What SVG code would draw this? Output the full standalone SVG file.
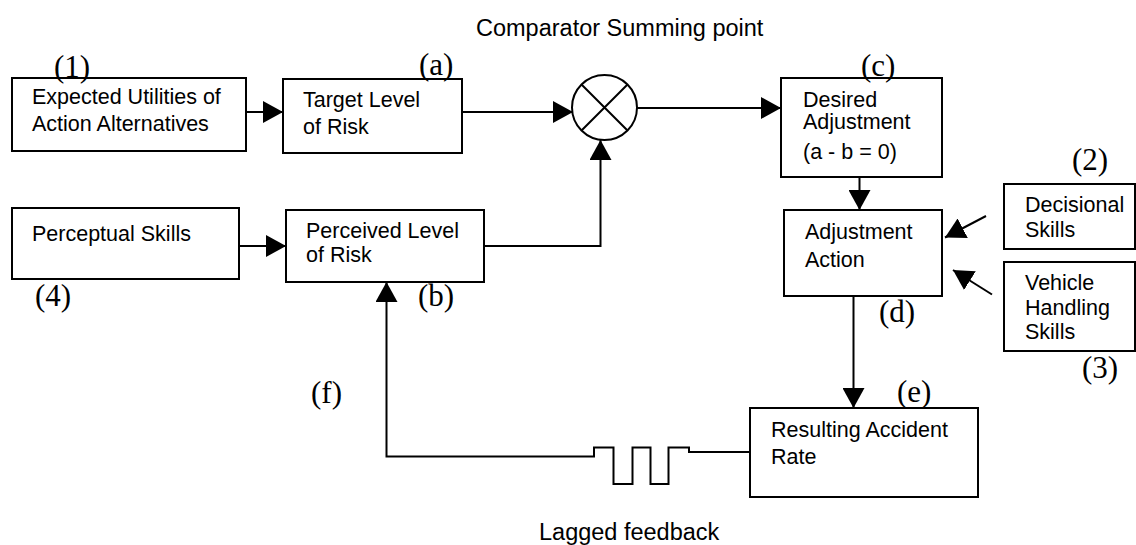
<svg xmlns="http://www.w3.org/2000/svg" width="1136" height="545" viewBox="0 0 1136 545">
<style>
.box{fill:#fff;stroke:#000;stroke-width:2}
.t{font-family:"Liberation Sans",Arial,sans-serif;font-size:21.5px;fill:#000}
.big{font-family:"Liberation Sans",Arial,sans-serif;font-size:23.5px;fill:#000}
.lab{font-family:"Liberation Serif","Times New Roman",serif;font-size:31px;fill:#000}
.ln{fill:none;stroke:#000;stroke-width:2}
</style>
<defs>
<marker id="ah" markerUnits="userSpaceOnUse" markerWidth="20" markerHeight="22" refX="20" refY="11" orient="auto" viewBox="0 0 20 22">
<path d="M0,0 L20,11 L0,22 z" fill="#000"/>
</marker>
</defs>
<rect width="1136" height="545" fill="#fff"/>
<text class="big" x="476" y="36">Comparator Summing point</text>
<text class="big" x="539" y="540">Lagged feedback</text>

<g id="n1">
<rect class="box" x="12" y="78" width="234" height="73"/>
<text class="t" x="32" y="104">Expected Utilities of</text>
<text class="t" x="32" y="131">Action Alternatives</text>
<text class="lab" x="54" y="77">(1)</text>
</g>
<g id="na">
<rect class="box" x="283" y="79" width="179" height="74"/>
<text class="t" x="303" y="107">Target Level</text>
<text class="t" x="303" y="134">of Risk</text>
<text class="lab" x="419" y="75">(a)</text>
</g>
<g id="comparator">
<circle cx="604.5" cy="107.5" r="32.5" fill="#fff" stroke="#000" stroke-width="2"/>
<path class="ln" d="M581.5,84.5 L627.5,130.5 M627.5,84.5 L581.5,130.5"/>
</g>
<g id="nc">
<rect class="box" x="781" y="78" width="161" height="99"/>
<text class="t" x="803" y="107">Desired</text>
<text class="t" x="803" y="129">Adjustment</text>
<text class="t" x="803" y="159">(a - b = 0)</text>
<text class="lab" x="861" y="76">(c)</text>
</g>
<g id="n4">
<rect class="box" x="12" y="208" width="227" height="71"/>
<text class="t" x="32" y="241">Perceptual Skills</text>
<text class="lab" x="35" y="306">(4)</text>
</g>
<g id="nb">
<rect class="box" x="286" y="210" width="198" height="72"/>
<text class="t" x="306" y="238">Perceived Level</text>
<text class="t" x="306" y="262">of Risk</text>
<text class="lab" x="418" y="306">(b)</text>
</g>
<g id="nd">
<rect class="box" x="784" y="210" width="158" height="86"/>
<text class="t" x="805" y="239">Adjustment</text>
<text class="t" x="805" y="267">Action</text>
<text class="lab" x="879" y="322">(d)</text>
</g>
<g id="n2">
<rect class="box" x="1004" y="184" width="131" height="65"/>
<text class="t" x="1025" y="212">Decisional</text>
<text class="t" x="1025" y="237">Skills</text>
<text class="lab" x="1072" y="170">(2)</text>
</g>
<g id="n3">
<rect class="box" x="1004" y="262" width="131" height="89"/>
<text class="t" x="1025" y="290">Vehicle</text>
<text class="t" x="1025" y="315">Handling</text>
<text class="t" x="1025" y="339">Skills</text>
<text class="lab" x="1082" y="378">(3)</text>
</g>
<g id="ne">
<rect class="box" x="750" y="408" width="228" height="89"/>
<text class="t" x="771" y="437">Resulting Accident</text>
<text class="t" x="771" y="464">Rate</text>
<text class="lab" x="897" y="402">(e)</text>
</g>
<g id="nf">
<text class="lab" x="311" y="403">(f)</text>
</g>

<g id="connectors">
<path class="ln" d="M246,112 H283" marker-end="url(#ah)"/>
<path class="ln" d="M462,112 H573" marker-end="url(#ah)"/>
<path class="ln" d="M637,108 H781" marker-end="url(#ah)"/>
<path class="ln" d="M239,246 H286" marker-end="url(#ah)"/>
<path class="ln" d="M484,246 H600.5 V140" marker-end="url(#ah)"/>
<path class="ln" d="M859.5,177 V210" marker-end="url(#ah)"/>
<path class="ln" d="M986,216 L945,237.5" marker-end="url(#ah)"/>
<path class="ln" d="M992,294.5 L953,270" marker-end="url(#ah)"/>
<path class="ln" d="M853.5,296 V408" marker-end="url(#ah)"/>
<path class="ln" d="M750,452 H689 V447.5 H668.5 V484 H650.5 V447.5 H632.5 V484 H613.5 V447.5 H594 V456.5 H386.5 V282" marker-end="url(#ah)"/>
</g>
</svg>
